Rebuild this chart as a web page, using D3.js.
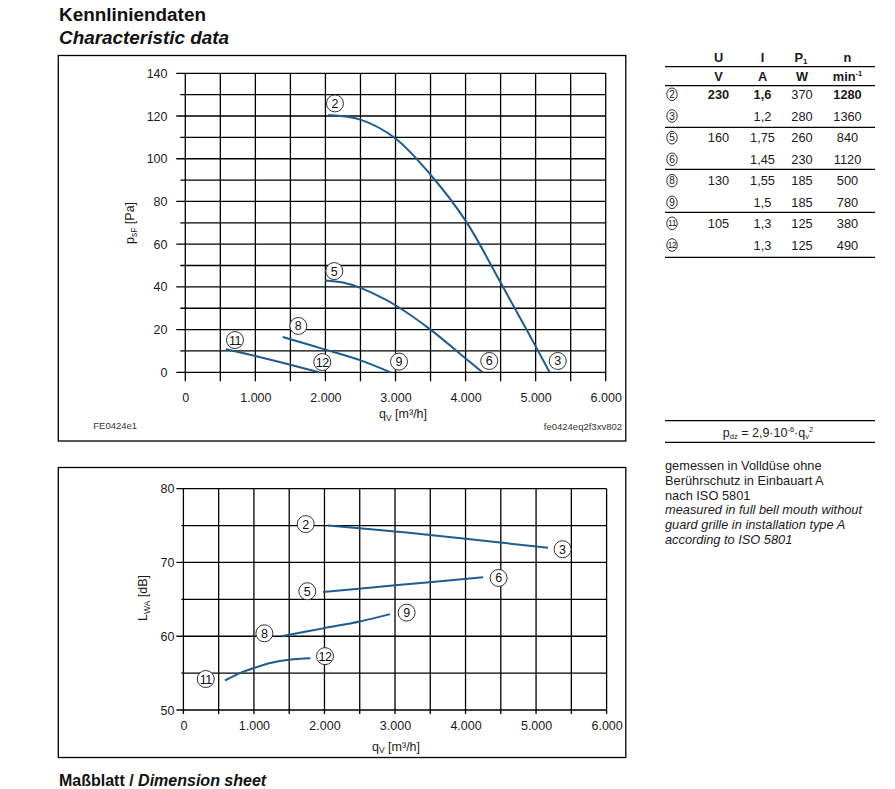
<!DOCTYPE html>
<html><head><meta charset="utf-8">
<script src="https://cdn.jsdelivr.net/npm/d3@7"></script>
<style>
html,body{margin:0;padding:0;background:#fff;}
svg{display:block;font-family:"Liberation Sans",Arial,sans-serif;}
</style></head>
<body>
<svg id="c" width="895" height="789"></svg>
<script>
// ---------- DATA ----------
const xTicks = [0, 1000, 2000, 3000, 4000, 5000, 6000];
const pTicks = [0, 20, 40, 60, 80, 100, 120, 140];
const lTicks = [50, 60, 70, 80];

// pressure curves (q_V m3/h, p_sF Pa)
const p23 = [[2040,120.5],[2500,118.3],[3000,109.5],[3500,92.5],[4000,71],[4500,42],[4870,20],[5200,0]];
const p56 = [[2000,43],[2250,42],[2500,39.5],[2780,35.3],[3000,31.4],[3500,20],[4000,6.5],[4240,0]];
const p89 = [[1390,16.5],[2000,10.6],[2500,5.6],[2930,0]];
const p1112 = [[580,10.8],[1000,7.6],[1500,3.5],[1910,0]];

// sound power curves (q_V m3/h, L_WA dB)
const l23 = [[2050,75],[3000,74.2],[4000,73.2],[5170,72]];
const l56 = [[1980,66],[3000,66.9],[4250,68]];
const l89 = [[1390,60],[2000,61.1],[2500,62],[2930,63]];
const l1112 = [[590,54],[800,55],[1000,55.7],[1250,56.4],[1500,56.8],[1800,57]];

// curve labels [number, q_V, value]
const pLabels = [["2",2136,125.9],["3",5316,5.3],["5",2126,47.4],["6",4338,5.3],["8",1613,21.7],["9",3050,5.0],["11",709,15.1],["12",1955,4.8]];
const lLabels = [["2",1734,75.2],["3",5376,71.8],["5",1757,66.1],["6",4469,67.9],["8",1148,60.4],["9",3165,63.2],["11",317,54.2],["12",2008,57.3]];

// table
const tblPoint = ["2","3","5","6","8","9","11","12"];
const tblU = ["230","","160","","130","","105",""];
const tblI = ["1,6","1,2","1,75","1,45","1,55","1,5","1,3","1,3"];
const tblP = ["370","280","260","230","185","185","125","125"];
const tblN = ["1280","1360","840","1120","500","780","380","490"];

const noteLines = ["gemessen in Volldüse ohne","Berührschutz in Einbauart A","nach ISO 5801"];
const noteLinesEn = ["measured in full bell mouth without","guard grille in installation type A","according to ISO 5801"];

// ---------- DRAW ----------
const svg = d3.select("#c");
const loc = d3.formatLocale({decimal:",", thousands:".", grouping:[3], currency:["",""]});
const fmt = loc.format(",d");
const BLUE = "#1f5b8e";
const TXT = "#1a1a1a";

svg.append("text").attr("x",59).attr("y",21).attr("font-size",18.9).attr("font-weight","bold").attr("fill","#111").text("Kennliniendaten");
svg.append("text").attr("x",59).attr("y",43.5).attr("font-size",18.9).attr("font-weight","bold").attr("font-style","italic").attr("fill","#111").text("Characteristic data");
const ms = svg.append("text").attr("x",59).attr("y",785.5).attr("font-size",16).attr("font-weight","bold").attr("fill","#111");
ms.append("tspan").text("Maßblatt / ");
ms.append("tspan").attr("font-style","italic").text("Dimension sheet");

svg.append("rect").attr("x",58.3).attr("y",55.5).attr("width",567.5).attr("height",385.5).attr("fill","none").attr("stroke","#000").attr("stroke-width",1.3);
svg.append("rect").attr("x",58.3).attr("y",467.5).attr("width",567.5).attr("height",290).attr("fill","none").attr("stroke","#000").attr("stroke-width",1.3);

function circled(g, x, y, t, rx, ry, fs){
  const gg = g.append("g").attr("transform",`translate(${x},${y})`);
  gg.append("ellipse").attr("rx",rx).attr("ry",ry).attr("fill","#fff").attr("stroke","#333").attr("stroke-width",1);
  gg.append("text").attr("text-anchor","middle").attr("dy","0.36em").attr("font-size",fs).attr("fill","#111")
    .attr("letter-spacing", t.length>1?-0.5:0).text(t);
}

function chart(opts){
  const {x, y, yMinor, yLab, labTickLen, minTickLen, xTickLen, xLabY, yLabX, curves, labels} = opts;
  const g = svg.append("g");
  const [x0,x1] = x.range();
  yMinor.forEach(v=>{
    const labeled = yLab.includes(v);
    g.append("line").attr("x1",x0-(labeled?labTickLen:minTickLen)).attr("x2",x1)
      .attr("y1",y(v)).attr("y2",y(v)).attr("stroke","#000").attr("stroke-width",1.3);
  });
  d3.range(0,6001,500).forEach(v=>{
    g.append("line").attr("x1",x(v)).attr("x2",x(v)).attr("y1",y.range()[1]).attr("y2",y.range()[0]+xTickLen)
      .attr("stroke","#000").attr("stroke-width",1.3);
  });
  const ax = g.append("g").attr("transform",`translate(0,${xLabY})`).call(d3.axisBottom(x).tickValues(xTicks).tickFormat(fmt).tickSize(0).tickPadding(0));
  ax.select(".domain").remove();
  ax.selectAll("text").attr("font-size",12.5).attr("fill",TXT).attr("font-family","Liberation Sans, Arial, sans-serif").attr("dy","0.35em");
  const ay = g.append("g").attr("transform",`translate(${yLabX},0)`).call(d3.axisLeft(y).tickValues(yLab).tickSize(0).tickPadding(0));
  ay.select(".domain").remove();
  ay.selectAll("text").attr("font-size",12.5).attr("fill",TXT).attr("font-family","Liberation Sans, Arial, sans-serif");
  const line = d3.line().x(d=>x(d[0])).y(d=>y(d[1])).curve(d3.curveCatmullRom.alpha(0.5));
  curves.forEach(c=>{
    g.append("path").attr("d",line(c)).attr("fill","none").attr("stroke",BLUE).attr("stroke-width",2);
  });
  labels.forEach(l=>circled(g, x(l[1]), y(l[2]), l[0], 8.5, 8.5, 12.5));
  return g;
}

const xP = d3.scaleLinear().domain([0,6000]).range([185.3,605.7]);
const yP = d3.scaleLinear().domain([0,140]).range([372.3,73.3]);
chart({x:xP, y:yP, yMinor:d3.range(0,141,10), yLab:pTicks, labTickLen:9, minTickLen:5, xTickLen:9,
  xLabY:397.5, yLabX:167.5, curves:[p23,p56,p89,p1112], labels:pLabels});

let t = svg.append("text").attr("x",379).attr("y",418).attr("font-size",12.5).attr("fill",TXT);
t.append("tspan").text("q");
t.append("tspan").attr("font-size",8.5).attr("dy",2.5).text("V");
t.append("tspan").attr("dy",-2.5).text(" [m³/h]");
t = svg.append("text").attr("transform","translate(134,223) rotate(-90)").attr("text-anchor","middle").attr("font-size",12.5).attr("fill",TXT);
t.append("tspan").text("p");
t.append("tspan").attr("font-size",8.5).attr("dy",2.5).text("sF");
t.append("tspan").attr("dy",-2.5).text(" [Pa]");
svg.append("text").attr("x",93.3).attr("y",428.5).attr("font-size",9.5).attr("fill","#333").text("FE0424e1");
svg.append("text").attr("x",622).attr("y",430).attr("text-anchor","end").attr("font-size",9.5).attr("fill","#333").text("fe0424eq2f3xv802");

const xL = d3.scaleLinear().domain([0,6000]).range([183.4,606.6]);
const yL = d3.scaleLinear().domain([50,80]).range([710,488.7]);
chart({x:xL, y:yL, yMinor:d3.range(50,81,5), yLab:lTicks, labTickLen:7, minTickLen:2, xTickLen:4,
  xLabY:726, yLabX:174.5, curves:[l23,l56,l89,l1112], labels:lLabels});
t = svg.append("text").attr("x",372).attr("y",750.5).attr("font-size",12.5).attr("fill",TXT);
t.append("tspan").text("q");
t.append("tspan").attr("font-size",8.5).attr("dy",2.5).text("V");
t.append("tspan").attr("dy",-2.5).text(" [m³/h]");
t = svg.append("text").attr("transform","translate(147,598) rotate(-90)").attr("text-anchor","middle").attr("font-size",12.5).attr("fill",TXT);
t.append("tspan").text("L");
t.append("tspan").attr("font-size",8.5).attr("dy",2.5).text("WA");
t.append("tspan").attr("dy",-2.5).text(" [dB]");

// ---------- TABLE ----------
const tb = svg.append("g").attr("font-size",12.8).attr("fill",TXT);
const colX = {pt:672, U:718.5, I:762.5, P:802, N:847.5};
const hline = y => tb.append("line").attr("x1",665).attr("x2",875).attr("y1",y).attr("y2",y).attr("stroke","#000").attr("stroke-width",1.2);
[["U",colX.U],["I",colX.I],["n",colX.N]].forEach(h=>tb.append("text").attr("x",h[1]).attr("y",62).attr("text-anchor","middle").attr("font-weight","bold").text(h[0]));
let ph = tb.append("text").attr("x",colX.P-1).attr("y",62).attr("text-anchor","middle").attr("font-weight","bold");
ph.append("tspan").text("P");
ph.append("tspan").attr("font-size",8).attr("dy",1.5).text("1");
hline(66.7);
[["V",colX.U],["A",colX.I],["W",colX.P]].forEach(h=>tb.append("text").attr("x",h[1]).attr("y",80.5).attr("text-anchor","middle").attr("font-weight","bold").text(h[0]));
let mh = tb.append("text").attr("x",colX.N).attr("y",80.5).attr("text-anchor","middle").attr("font-weight","bold");
mh.append("tspan").text("min");
mh.append("tspan").attr("font-size",7.5).attr("dy",-4.5).text("-1");
hline(85.7);
const rowY = [94.3,116,137.7,159.3,180.7,202.3,223.3,245];
tblPoint.forEach((p,i)=>{
  const yy = rowY[i];
  circled(tb, colX.pt, yy, p, 5.2, 6.3, p.length>1?8.5:10);
  const b = i===0;
  tb.append("text").attr("x",colX.U).attr("y",yy).attr("dy","0.36em").attr("text-anchor","middle").attr("font-weight",b?"bold":"normal").text(tblU[i]);
  tb.append("text").attr("x",colX.I).attr("y",yy).attr("dy","0.36em").attr("text-anchor","middle").attr("font-weight",b?"bold":"normal").text(tblI[i]);
  tb.append("text").attr("x",colX.P).attr("y",yy).attr("dy","0.36em").attr("text-anchor","middle").text(tblP[i]);
  tb.append("text").attr("x",colX.N).attr("y",yy).attr("dy","0.36em").attr("text-anchor","middle").attr("font-weight",b?"bold":"normal").text(tblN[i]);
});
[127.3,169.3,212.3,257.3].forEach(hline);

hline(420.7); hline(442.3);
const pf = tb.append("text").attr("x",768).attr("y",436.5).attr("text-anchor","middle").attr("font-size",12.5);
pf.append("tspan").text("p");
pf.append("tspan").attr("font-size",7.5).attr("dy",2).text("dz");
pf.append("tspan").attr("dy",-2).text(" = 2,9·10");
pf.append("tspan").attr("font-size",7.5).attr("dy",-4.5).text("-6");
pf.append("tspan").attr("dy",4.5).text("·q");
pf.append("tspan").attr("font-size",7.5).attr("dy",2).text("v");
pf.append("tspan").attr("font-size",7.5).attr("dy",-6.5).text("2");

const noteY = [469.5,484.5,499.5,514.3,529,543.8];
noteLines.forEach((s,i)=>tb.append("text").attr("x",665).attr("y",noteY[i]).attr("font-size",12.8).text(s));
noteLinesEn.forEach((s,i)=>tb.append("text").attr("x",665).attr("y",noteY[i+3]).attr("font-size",12.8).attr("font-style","italic").text(s));
</script>
</body></html>
